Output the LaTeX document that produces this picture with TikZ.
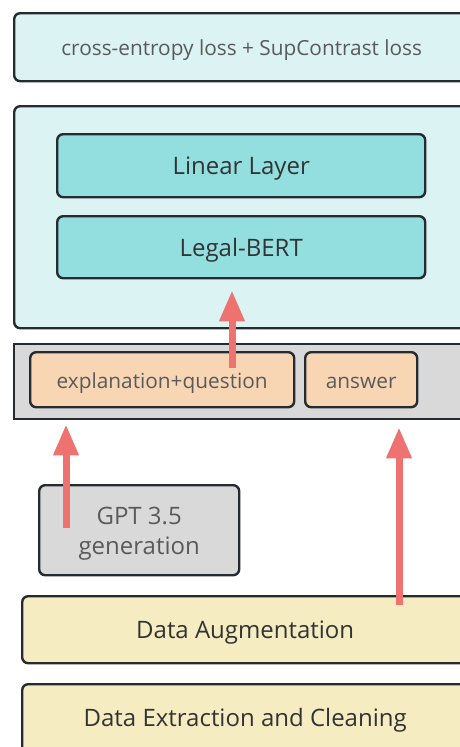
\documentclass[tikz,border=0pt]{standalone}
\usepackage{fontspec}
\setmainfont{Open Sans}
\usetikzlibrary{arrows.meta,calc}
\definecolor{edge}{HTML}{262B31}
\definecolor{lossfill}{HTML}{DBF3F3}
\definecolor{layerfill}{HTML}{93DFDF}
\definecolor{bandfill}{HTML}{D9D9D9}
\definecolor{peach}{HTML}{F8D6B4}
\definecolor{cream}{HTML}{F5ECC2}
\definecolor{arrowred}{HTML}{EE7370}
\definecolor{darktext}{HTML}{333333}
\definecolor{softtext}{HTML}{5A5A5A}
% lower a label a little inside its box, keeping its reported size
\newcommand{\dropped}[1]{\raisebox{-3pt}[\height][\depth]{#1}}
\begin{document}
\begin{tikzpicture}[x=1pt,y=-1pt,
  box/.style={draw=edge, line width=2.4pt, rounded corners=6pt, inner sep=0pt,
              anchor=north west, align=center},
  dark/.style={text=darktext, font=\fontsize{24}{28}\selectfont},
  soft/.style={text=softtext, font=\fontsize{20.8}{25}\selectfont},
  flow/.style={draw=arrowred, line width=7pt, -{Triangle[width=24pt,length=31pt]}},
]
\useasboundingbox (0,0) rectangle (460,747);
\begin{scope}
\clip (0,0) rectangle (460,747);
% training objective
\node[box, fill=lossfill, soft, minimum width=455pt, minimum height=68pt] (loss) at (13,12)
  {\dropped{cross-entropy loss + SupContrast loss}};
% classifier
\node[box, fill=lossfill, minimum width=455pt, minimum height=222pt] (model) at (13,105) {};
\node[box, fill=layerfill, dark, minimum width=368pt, minimum height=63pt] (linear) at (56,133) {\dropped{Linear Layer}};
\node[box, fill=layerfill, dark, minimum width=368pt, minimum height=62pt] (bert) at (56,215) {\dropped{Legal-BERT}};
% input band
\node[box, rounded corners=0pt, fill=bandfill, minimum width=455pt, minimum height=75pt] (band) at (13,343) {};
\node[box, fill=peach, soft, minimum width=264pt, minimum height=55pt] (eq) at (29,351) {\dropped{explanation+question}};
\node[box, fill=peach, soft, minimum width=112pt, minimum height=55pt] (ans) at (304,351) {\dropped{answer}};
% generation
\node[box, fill=bandfill, soft, font=\fontsize{24}{30}\selectfont, minimum width=200pt, minimum height=90pt] (gpt) at (38,484)
  {\dropped{\begin{tabular}{@{}c@{}}GPT 3.5\\generation\end{tabular}}};
% data preparation
\node[box, fill=cream, dark, minimum width=446pt, minimum height=67pt] (aug) at (21,595) {\dropped{Data Augmentation}};
\node[box, fill=cream, dark, minimum width=446pt, minimum height=72pt] (ext) at (21,683) {Data Extraction and Cleaning};
% flows
\coordinate (s1) at (232,368);
\coordinate (s2) at (66,528);
\coordinate (s3) at (399,605);
\draw[flow] (s1) -- ($(bert.south -| s1)+(0,11)$);
\draw[flow] (s2) -- ($(band.south -| s2)+(0,4)$);
\draw[flow] (s3) -- ($(band.south -| s3)+(0,7)$);
\end{scope}
\end{tikzpicture}
\end{document}
